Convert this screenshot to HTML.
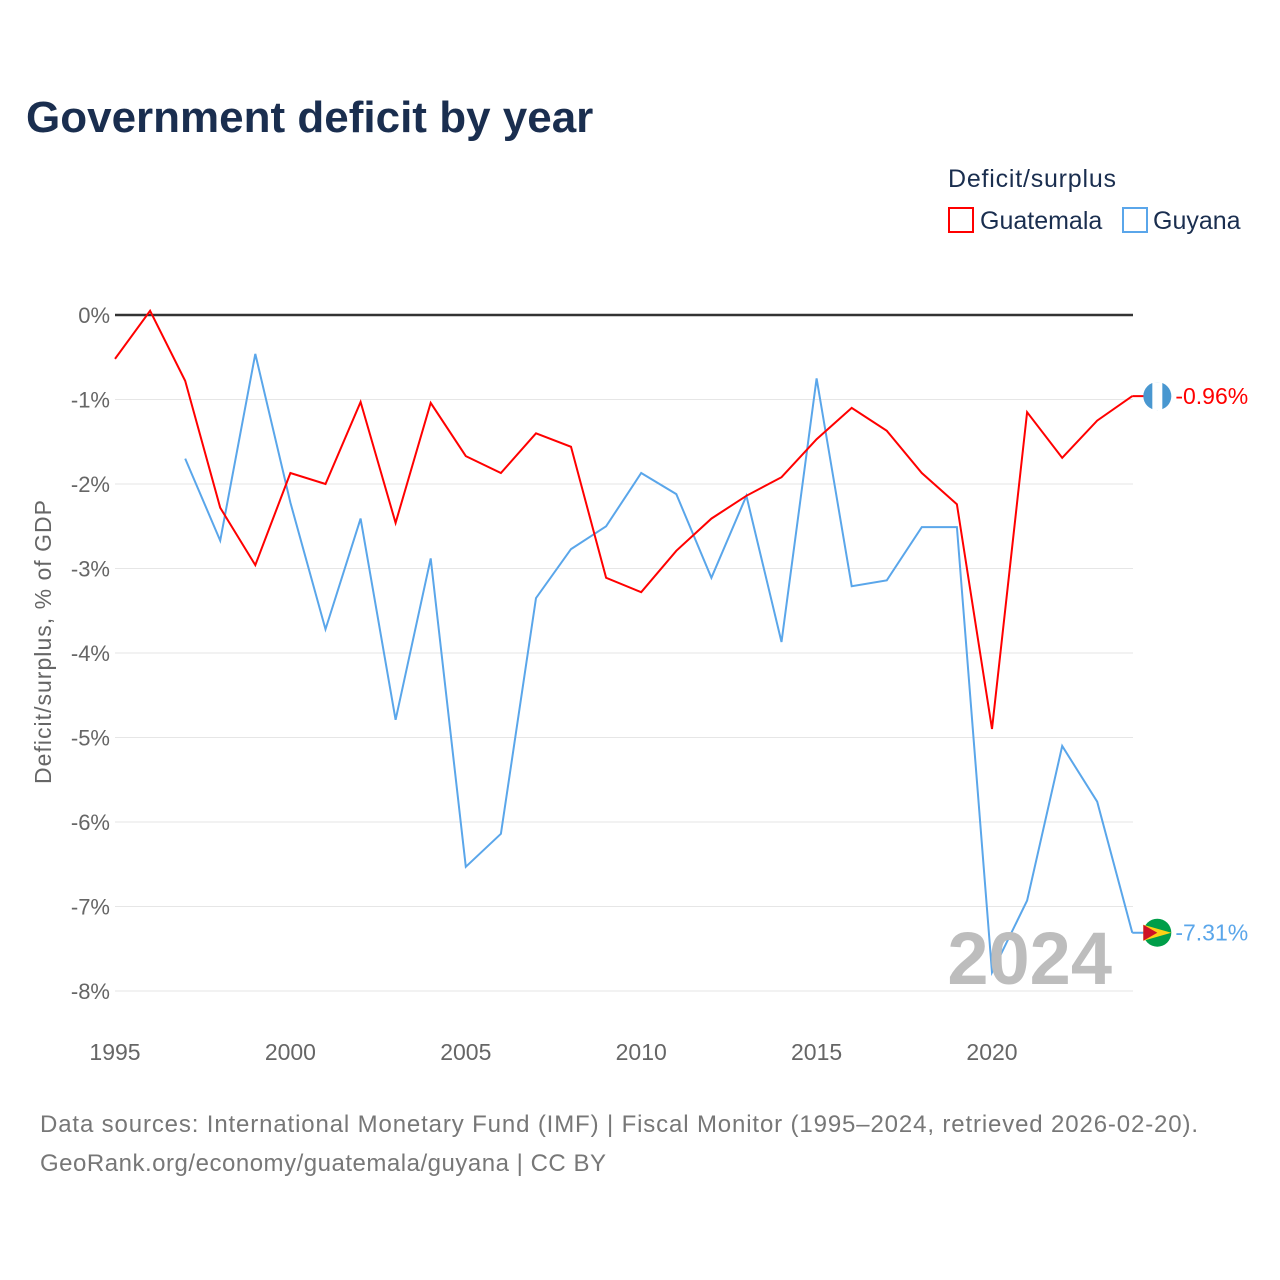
<!DOCTYPE html>
<html><head><meta charset="utf-8">
<style>
body{margin:0;background:#fff;font-family:"Liberation Sans",sans-serif;}
#wrap{position:relative;width:1280px;height:1280px;overflow:hidden;}
</style></head>
<body>
<div id="wrap">
<svg id="chart" width="1280" height="1280" xmlns="http://www.w3.org/2000/svg">
<text x="26" y="132" font-size="44" font-weight="bold" fill="#1a2e4f">Government deficit by year</text>
<text x="948" y="187" font-size="25" fill="#1a2e4f" textLength="168">Deficit/surplus</text>
<g>
<rect x="949" y="208" width="24" height="24" fill="none" stroke="#ff0000" stroke-width="2"/>
<text x="980" y="229" font-size="25" fill="#1a2e4f">Guatemala</text></g>
<g>
<rect x="1123" y="208" width="24" height="24" fill="none" stroke="#5aa6ea" stroke-width="2"/>
<text x="1153" y="229" font-size="25" fill="#1a2e4f">Guyana</text></g>
<text transform="translate(51,642) rotate(-90)" text-anchor="middle" font-size="23" fill="#666" textLength="284">Deficit/surplus, % of GDP</text>
<g id="grid"></g><g id="yticks"></g><g id="xticks"></g><g id="lines"></g>
<text x="1112" y="984" text-anchor="end" font-size="74" font-weight="bold" fill="#bdbdbd">2024</text>
<text x="40" y="1132" font-size="24" fill="#777" textLength="1158">Data sources: International Monetary Fund (IMF) | Fiscal Monitor (1995–2024, retrieved 2026-02-20).</text>
<text x="40" y="1171" font-size="24" fill="#777" textLength="566">GeoRank.org/economy/guatemala/guyana | CC BY</text>
</svg>
</div>
<script>
const years=[1995,1996,1997,1998,1999,2000,2001,2002,2003,2004,2005,2006,2007,2008,2009,2010,2011,2012,2013,2014,2015,2016,2017,2018,2019,2020,2021,2022,2023,2024];
const guatemala=[-0.52,0.05,-0.78,-2.28,-2.96,-1.87,-2.0,-1.03,-2.46,-1.04,-1.67,-1.87,-1.40,-1.56,-3.11,-3.28,-2.79,-2.41,-2.14,-1.92,-1.47,-1.10,-1.37,-1.87,-2.24,-4.90,-1.15,-1.69,-1.25,-0.96];
const guyana=[null,null,-1.70,-2.67,-0.46,-2.22,-3.72,-2.41,-4.79,-2.88,-6.53,-6.14,-3.35,-2.77,-2.50,-1.87,-2.12,-3.11,-2.14,-3.87,-0.75,-3.21,-3.14,-2.51,-2.51,-7.78,-6.93,-5.10,-5.76,-7.31];
const yTicks=[0,-1,-2,-3,-4,-5,-6,-7,-8];
const xTicks=[1995,2000,2005,2010,2015,2020];
const NS="http://www.w3.org/2000/svg";
const X=y=>115+(y-1995)*35.08;
const Y=v=>315-v*84.5;
function mk(tag,attrs,parent){const e=document.createElementNS(NS,tag);for(const k in attrs)e.setAttribute(k,attrs[k]);parent.appendChild(e);return e;}
const grid=document.getElementById('grid'),yt=document.getElementById('yticks'),xt=document.getElementById('xticks'),ln=document.getElementById('lines');
yTicks.forEach(v=>{
 const l=mk('line',{x1:115,x2:1133,y1:Y(v),y2:Y(v),stroke:v===0?'#333':'#e6e6e6','stroke-width':v===0?2.5:1},grid);
 
 
 const t=mk('text',{x:110,y:Y(v)+8,'text-anchor':'end','font-size':22,fill:'#666'},yt);
 t.textContent=v+'%';
 
 
});
xTicks.forEach(v=>{
 const t=mk('text',{x:X(v),y:1060,'text-anchor':'middle','font-size':23,fill:'#666'},xt);
 t.textContent=v;
 
 
});
function series(data,color,name){
 let d='';let started=false;
 data.forEach((v,i)=>{if(v===null)return;d+=(started?'L':'M')+X(years[i]).toFixed(1)+' '+Y(v).toFixed(1);started=true;});
 const p=mk('path',{d:d,fill:'none',stroke:color,'stroke-width':2},ln);
 
 
 const last=data[data.length-1];
 const cx=X(2024)+25, cy=Y(last);
 mk('line',{x1:X(2024),x2:cx,y1:cy,y2:cy,stroke:color,'stroke-width':2},ln);
 const c=mk('circle',{cx:cx,cy:cy,r:14,fill:name==='guatemala'?'#4997d0':'#009e49'},ln);
 
 
 if(name==='guatemala'){mk('rect',{x:cx-5,y:cy-14,width:10,height:28,fill:'#fff'},ln);}
 else{mk('path',{d:`M${cx-14} ${cy-8}L${cx+14} ${cy}L${cx-14} ${cy+8}Z`,fill:'#fcd116'},ln);mk('path',{d:`M${cx-14} ${cy-8}L${cx} ${cy}L${cx-14} ${cy+8}Z`,fill:'#ce1126'},ln);}
 const t=mk('text',{x:cx+18,y:cy+8,'font-size':23,fill:color},ln);
 t.textContent=last.toFixed(2)+'%';
 
 
}
series(guyana,'#5aa6ea','guyana');
series(guatemala,'#ff0000','guatemala');
</script>
</body></html>
